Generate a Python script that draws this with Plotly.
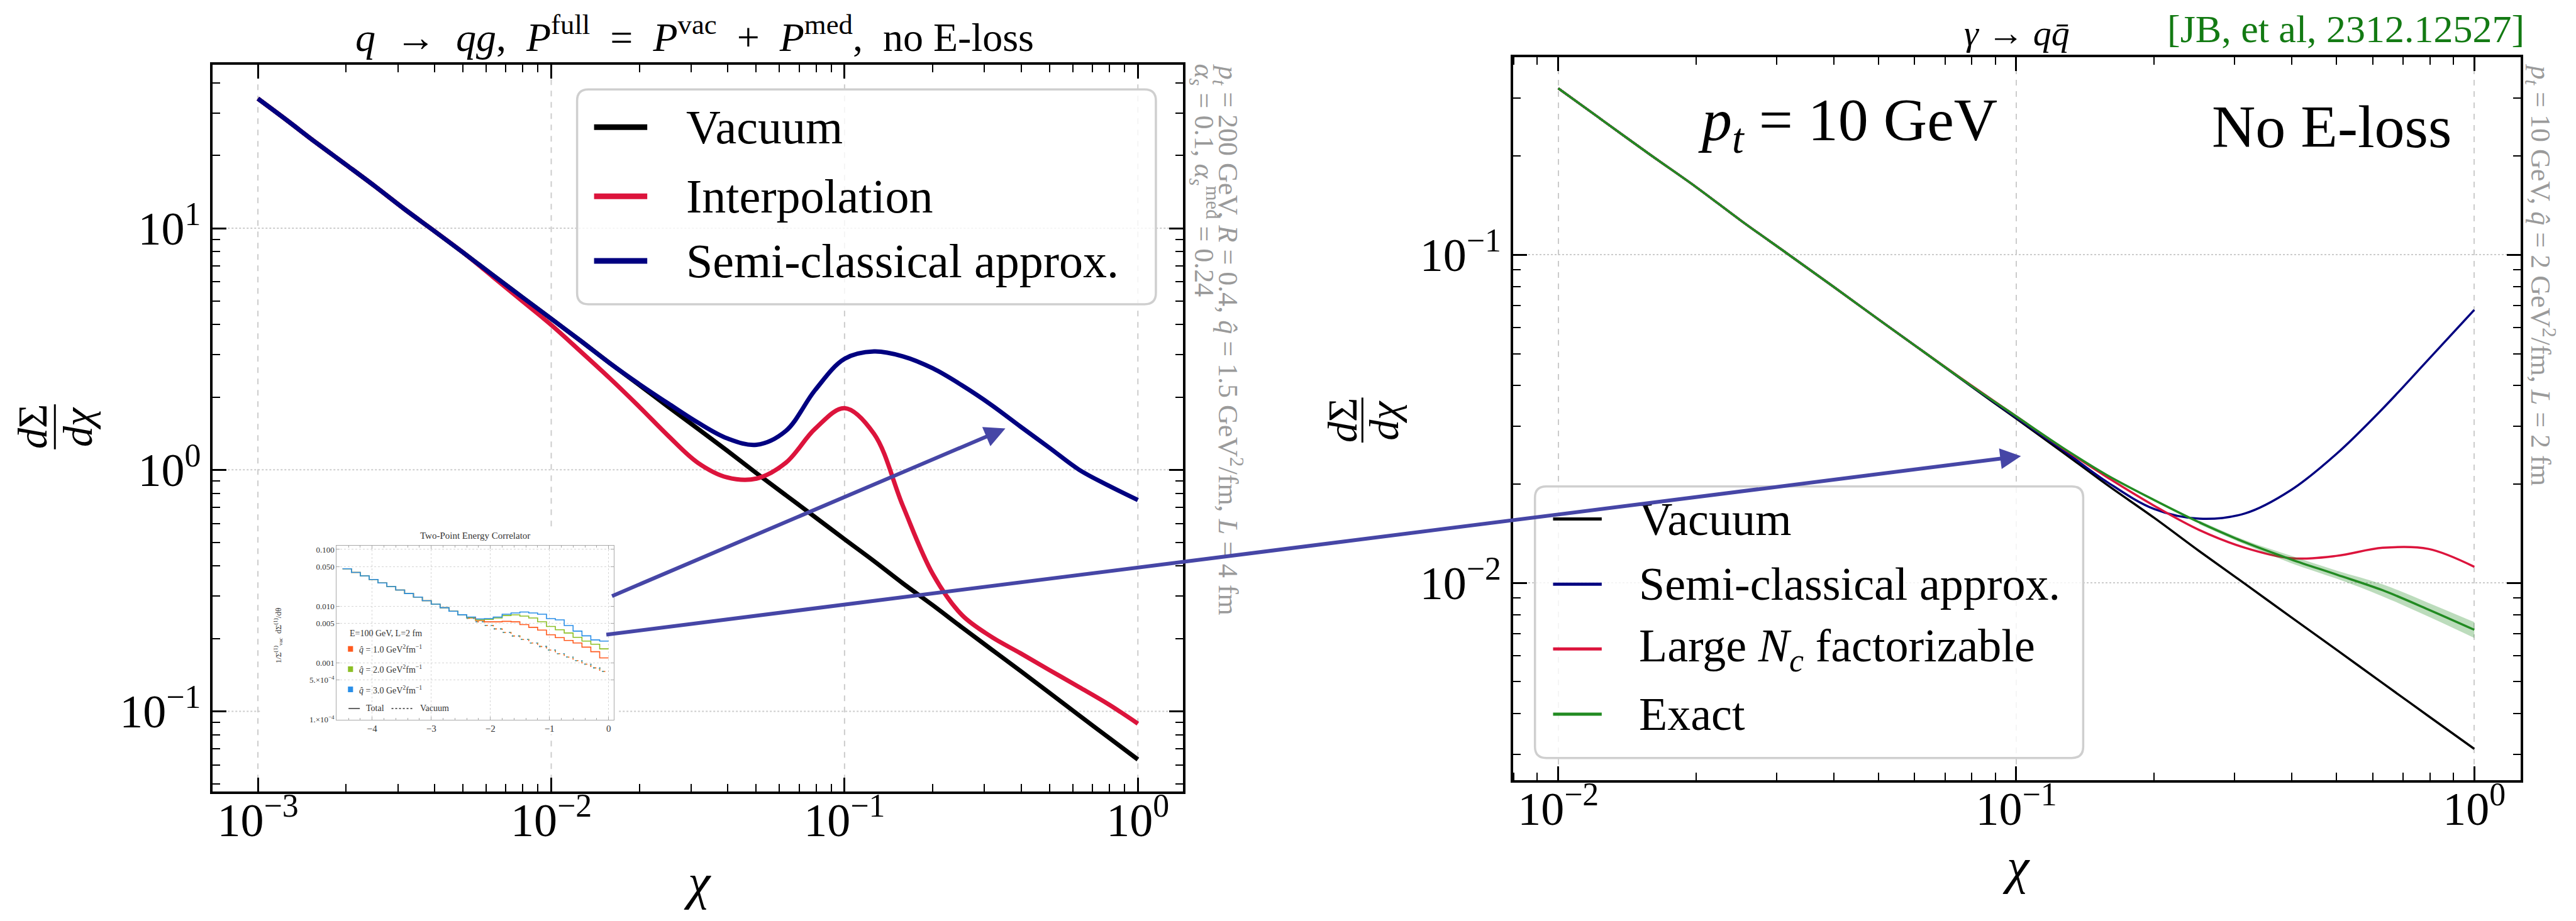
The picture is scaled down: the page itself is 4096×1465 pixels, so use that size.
import plotly.graph_objects as go

# ---------------- data ----------------
chi_left = [0.001, 0.00126, 0.00158, 0.002, 0.00251, 0.00316, 0.00398, 0.00501, 0.00631, 0.00794,
            0.01, 0.0126, 0.0158, 0.02, 0.0251, 0.0316, 0.0398, 0.0501, 0.0631, 0.0794,
            0.1, 0.126, 0.158, 0.2, 0.251, 0.316, 0.398, 0.501, 0.631, 0.794, 1.0]
left_vacuum = [34.4, 27.9, 22.6, 18.3, 14.9, 12.0, 9.77, 7.93, 6.41, 5.20,
               4.22, 3.42, 2.77, 2.24, 1.82, 1.48, 1.20, 0.968, 0.785, 0.637,
               0.516, 0.419, 0.339, 0.275, 0.223, 0.181, 0.147, 0.119, 0.0962, 0.0780, 0.0632]
left_interp = [34.4, 27.9, 22.6, 18.3, 14.9, 12.0, 9.77, 7.93, 6.31, 5.01,
               3.98, 3.09, 2.40, 1.82, 1.38, 1.07, 0.93, 0.92, 1.07, 1.48,
               1.80, 1.41, 0.71, 0.37, 0.251, 0.204, 0.174, 0.148, 0.126, 0.107, 0.089]
left_semi = [34.4, 27.9, 22.6, 18.3, 14.9, 12.0, 9.77, 7.93, 6.41, 5.20,
             4.22, 3.42, 2.77, 2.26, 1.88, 1.57, 1.35, 1.27, 1.45, 2.14,
             2.88, 3.09, 2.95, 2.63, 2.24, 1.86, 1.51, 1.23, 1.00, 0.861, 0.75]

chi_right = [0.01, 0.0126, 0.0158, 0.02, 0.0251, 0.0316, 0.0398, 0.0501, 0.0631, 0.0794,
             0.1, 0.126, 0.158, 0.2, 0.251, 0.316, 0.398, 0.501, 0.631, 0.794, 1.0]
right_vacuum = [0.322, 0.255, 0.203, 0.161, 0.127, 0.101, 0.0802, 0.0635, 0.0504, 0.0399,
                0.0317, 0.0251, 0.0199, 0.0158, 0.0125, 0.00993, 0.00787, 0.00625, 0.00495, 0.00393, 0.00312]
right_semi = [0.322, 0.255, 0.203, 0.161, 0.127, 0.101, 0.0802, 0.0635, 0.0504, 0.0400,
              0.0319, 0.0255, 0.0203, 0.0168, 0.0157, 0.0163, 0.0192, 0.0248, 0.0340, 0.0480, 0.068]
right_largeNc = [0.322, 0.255, 0.203, 0.161, 0.127, 0.101, 0.0802, 0.0635, 0.0504, 0.0402,
                 0.0322, 0.0258, 0.0210, 0.0172, 0.0145, 0.0128, 0.0119, 0.0121, 0.0128, 0.0127, 0.0112]
right_exact = [0.322, 0.255, 0.203, 0.161, 0.127, 0.101, 0.0802, 0.0635, 0.0504, 0.0401,
               0.0322, 0.0259, 0.0213, 0.0179, 0.0153, 0.0133, 0.0118, 0.0106, 0.0095, 0.0083, 0.0072]
chi_band = [0.251, 0.316, 0.398, 0.501, 0.631, 0.794, 1.0]
exact_lo = [0.0151, 0.0131, 0.0115, 0.0103, 0.0091, 0.0079, 0.0068]
exact_hi = [0.0155, 0.0135, 0.0121, 0.0109, 0.0099, 0.0087, 0.0076]

# inset histogram (log10 theta bins)
inset_edges = [-4.5, -4.35, -4.2, -4.05, -3.9, -3.75, -3.6, -3.45, -3.3, -3.15, -3.0, -2.85, -2.7, -2.55,
               -2.4, -2.25, -2.1, -1.95, -1.8, -1.65, -1.5, -1.35, -1.2, -1.05, -0.9, -0.75, -0.6, -0.45,
               -0.3, -0.15, 0.0]
inset_vacuum = [0.0456, 0.0394, 0.0342, 0.0296, 0.0257, 0.0222, 0.0193, 0.0167, 0.0145, 0.0125,
                0.01087, 0.00942, 0.00816, 0.00707, 0.00613, 0.00531, 0.00460, 0.00398, 0.00345, 0.00299,
                0.00259, 0.00225, 0.00195, 0.00169, 0.00146, 0.00127, 0.00110, 0.00095, 0.00082, 0.00071]
inset_q1 = [0.0456, 0.0394, 0.0342, 0.0296, 0.0257, 0.0222, 0.0193, 0.0167, 0.0145, 0.0125,
            0.01087, 0.00942, 0.00816, 0.00707, 0.0062, 0.0056, 0.0053, 0.0053, 0.0054, 0.0053,
            0.00475, 0.00424, 0.0038, 0.00313, 0.00279, 0.00249, 0.00225, 0.0019, 0.00158, 0.00123]
inset_q2 = [0.0456, 0.0394, 0.0342, 0.0296, 0.0257, 0.0222, 0.0193, 0.0167, 0.0145, 0.0125,
            0.01087, 0.00942, 0.00816, 0.00707, 0.0063, 0.00574, 0.00588, 0.0062, 0.00684, 0.00705,
            0.00668, 0.0062, 0.00532, 0.0044, 0.00384, 0.00337, 0.00283, 0.00243, 0.00214, 0.00177]
inset_q3 = [0.0456, 0.0394, 0.0342, 0.0296, 0.0257, 0.0222, 0.0193, 0.0167, 0.0145, 0.0125,
            0.01087, 0.00942, 0.00816, 0.00707, 0.00645, 0.00597, 0.00605, 0.00644, 0.00722, 0.0076,
            0.00791, 0.0076, 0.00722, 0.00605, 0.00574, 0.00457, 0.00364, 0.00301, 0.00255, 0.00243]

left_xticks = [1e-3, 1e-2, 1e-1, 1]
left_xticktext = ["10<sup>−3</sup>", "10<sup>−2</sup>", "10<sup>−1</sup>", "10<sup>0</sup>"]
left_yticks = [0.1, 1, 10]
left_yticktext = ["10<sup>−1</sup>", "10<sup>0</sup>", "10<sup>1</sup>"]
right_xticks = [1e-2, 1e-1, 1]
right_xticktext = ["10<sup>−2</sup>", "10<sup>−1</sup>", "10<sup>0</sup>"]
right_yticks = [1e-2, 1e-1]
right_yticktext = ["10<sup>−2</sup>", "10<sup>−1</sup>"]
inset_yticks = [0.1, 0.05, 0.01, 0.005, 0.001, 5e-4, 1e-4]
inset_yticktext = ["0.100", "0.050", "0.010", "0.005", "0.001", "5.×10<sup>−4</sup>", "1.×10<sup>−4</sup>"]
inset_xticks = [-4, -3, -2, -1, 0]
inset_xticktext = ["−4", "−3", "−2", "−1", "0"]

# ---------------- helpers ----------------
WR, HR = 4553.0, 1628.0
def px(x):
    return x / WR
def py(y):
    return 1 - y / HR

SERIF = "Liberation Serif"
NAVY = "#000080"
CRIMSON = "#dc143c"
GREEN = "#228b22"
ARROW = "#4646a6"
GRAY = "#9a9a9a"
GRID = "#cccccc"
NB = "\u00a0"

def minor_vals(lo_exp, hi_exp):
    out = []
    for e in range(lo_exp, hi_exp):
        for d in range(2, 10):
            out.append(d * 10 ** e)
    return out

def main_axis(rng, dom, anchor, tv, tt, minors, griddash, showgrid=True, standoff=0):
    return dict(type="log", range=rng, domain=dom, anchor=anchor,
                showline=True, linecolor="black", linewidth=4, mirror="allticks",
                ticks="inside", ticklen=22, tickwidth=3, tickcolor="black",
                tickmode="array", tickvals=tv, ticktext=tt, ticklabelstandoff=standoff,
                tickfont=dict(family=SERIF, size=74, color="black"),
                showgrid=showgrid, gridcolor=GRID, gridwidth=2, griddash=griddash,
                zeroline=False,
                minor=dict(tickmode="array", tickvals=minors, ticks="inside", ticklen=12,
                           tickwidth=2, tickcolor="black", showgrid=False))

fig = go.Figure()

# left plot traces
fig.add_trace(go.Scatter(x=chi_left, y=left_vacuum, mode="lines", line=dict(color="black", width=7, shape="spline"),
                         xaxis="x", yaxis="y", showlegend=False))
fig.add_trace(go.Scatter(x=chi_left, y=left_interp, mode="lines", line=dict(color=CRIMSON, width=7, shape="spline"),
                         xaxis="x", yaxis="y", showlegend=False))
fig.add_trace(go.Scatter(x=chi_left, y=left_semi, mode="lines", line=dict(color=NAVY, width=7, shape="spline"),
                         xaxis="x", yaxis="y", showlegend=False))

# right plot traces
fig.add_trace(go.Scatter(x=chi_right, y=right_vacuum, mode="lines", line=dict(color="black", width=3.5, shape="spline"),
                         xaxis="x2", yaxis="y2", showlegend=False))
fig.add_trace(go.Scatter(x=chi_right, y=right_semi, mode="lines", line=dict(color=NAVY, width=3.5, shape="spline"),
                         xaxis="x2", yaxis="y2", showlegend=False))
fig.add_trace(go.Scatter(x=chi_right, y=right_largeNc, mode="lines", line=dict(color=CRIMSON, width=3.5, shape="spline"),
                         xaxis="x2", yaxis="y2", showlegend=False))
fig.add_trace(go.Scatter(x=chi_band, y=exact_lo, mode="lines", line=dict(width=0, shape="spline"),
                         xaxis="x2", yaxis="y2", showlegend=False, hoverinfo="skip"))
fig.add_trace(go.Scatter(x=chi_band, y=exact_hi, mode="lines", line=dict(width=0, shape="spline"), fill="tonexty",
                         fillcolor="rgba(34,139,34,0.30)", xaxis="x2", yaxis="y2", showlegend=False, hoverinfo="skip"))
fig.add_trace(go.Scatter(x=chi_right, y=right_exact, mode="lines", line=dict(color=GREEN, width=3.5, shape="spline"),
                         xaxis="x2", yaxis="y2", showlegend=False))

# inset traces
inset_cols = ["#ff5a1f", "#8cbf26", "#2a8fe8"]
inset_dash = ["5px,5px", "3px,7px", "2px,8px"]
for vals, col in zip([inset_q1, inset_q2, inset_q3], inset_cols):
    fig.add_trace(go.Scatter(x=inset_edges, y=vals + [vals[-1]], mode="lines",
                             line=dict(color=col, width=1.6, shape="hv"),
                             xaxis="x3", yaxis="y3", showlegend=False))
for col, dsh in zip(inset_cols, inset_dash):
    fig.add_trace(go.Scatter(x=inset_edges[14:], y=inset_vacuum[14:] + [inset_vacuum[-1]], mode="lines",
                             line=dict(color=col, width=1.6, shape="hv", dash=dsh),
                             xaxis="x3", yaxis="y3", showlegend=False))

# ---------------- layout ----------------
layout = dict(
    width=4096, height=1465, margin=dict(l=0, r=0, t=0, b=0),
    paper_bgcolor="white", plot_bgcolor="white", showlegend=False,
    font=dict(family=SERIF, color="black"),
    xaxis=main_axis([-3.154, 0.154], [px(376), px(2091)], "y", left_xticks, left_xticktext,
                    minor_vals(-3, 0), "dash", showgrid=False, standoff=-22),
    yaxis=main_axis([-1.3325, 1.677], [py(1407), py(114)], "x", left_yticks, left_yticktext,
                    minor_vals(-2, 2), "dot", showgrid=False),
    xaxis2=main_axis([-2.099, 0.101], [px(2674), px(4455)], "y2", right_xticks, right_xticktext,
                     minor_vals(-3, 0), "dash", standoff=-22),
    yaxis2=main_axis([-2.602, -0.398], [py(1387), py(101)], "x2", right_yticks, right_yticktext,
                     minor_vals(-3, 0), "dot"),
    xaxis3=dict(range=[-4.6, 0.09], domain=[px(595), px(1085)], anchor="y3",
                showline=True, linecolor="#a8a8a8", linewidth=1, mirror="allticks",
                ticks="inside", ticklen=5, tickcolor="#a8a8a8", tickvals=inset_xticks, ticktext=inset_xticktext,
                tickfont=dict(family=SERIF, size=15, color="#333333"),
                showgrid=True, gridcolor="#d6d6d6", gridwidth=1, griddash="dot", zeroline=False,
                minor=dict(dtick=0.2, tick0=0, ticks="inside", ticklen=3, tickcolor="#a8a8a8", showgrid=False)),
    yaxis3=dict(type="log", range=[-4, -0.93], domain=[py(1279), py(969)], anchor="x3",
                showline=True, linecolor="#a8a8a8", linewidth=1, mirror="allticks",
                ticks="inside", ticklen=5, tickcolor="#a8a8a8", tickvals=inset_yticks, ticktext=inset_yticktext,
                tickfont=dict(family=SERIF, size=13, color="#333333"),
                showgrid=True, gridcolor="#d6d6d6", gridwidth=1, griddash="dot", zeroline=False),
)
fig.update_layout(**layout)

shapes = []
annotations = []

# left-plot gridlines (interrupted where the inset picture sits)
inset_y_lo, inset_y_hi = (1407 - 1305) / 1293.0, (1407 - 935) / 1293.0
inset_x_lo, inset_x_hi = (460 - 376) / 1715.0, (1094 - 376) / 1715.0
for xv in left_xticks:
    segs = [(0, inset_y_lo), (inset_y_hi, 1)] if xv == 1e-2 else [(0, 1)]
    for a, b in segs:
        shapes.append(dict(type="line", xref="x", yref="y domain", x0=xv, x1=xv, y0=a, y1=b, layer="below",
                           line=dict(color=GRID, width=2, dash="dash")))
for yv in left_yticks:
    segs = [(0, inset_x_lo), (inset_x_hi, 1)] if yv == 0.1 else [(0, 1)]
    for a, b in segs:
        shapes.append(dict(type="line", xref="x domain", yref="y", x0=a, x1=b, y0=yv, y1=yv, layer="below",
                           line=dict(color=GRID, width=2, dash="dot")))

def rrect(x0, y0, x1, y1, r=18):
    rx = r / 4096.0
    ry = r / 1465.0
    X0, X1 = px(x0), px(x1)
    Yt, Yb = py(y0), py(y1)
    p = (f"M {X0+rx},{Yt} L {X1-rx},{Yt} Q {X1},{Yt} {X1},{Yt-ry} "
         f"L {X1},{Yb+ry} Q {X1},{Yb} {X1-rx},{Yb} L {X0+rx},{Yb} Q {X0},{Yb} {X0},{Yb+ry} "
         f"L {X0},{Yt-ry} Q {X0},{Yt} {X0+rx},{Yt} Z")
    return dict(type="path", path=p, xref="paper", yref="paper", layer="above",
                line=dict(color="#cfcfcf", width=3.5), fillcolor="rgba(255,255,255,0.8)")

shapes.append(rrect(1020, 158, 2043, 540))
shapes.append(rrect(2713, 864, 3682, 1347))

def ann(text, x, y, size, xanchor="center", yanchor="middle", color="black", angle=0, **kw):
    d = dict(text=text, x=x, y=y, xref="paper", yref="paper", showarrow=False,
             xanchor=xanchor, yanchor=yanchor, textangle=angle,
             font=dict(family=SERIF, size=size, color=color))
    d.update(kw)
    annotations.append(d)

left_leg = [("Vacuum", "black"), ("Interpolation", CRIMSON), ("Semi-classical approx.", NAVY)]
for (lab, col), yc in zip(left_leg, [225, 348, 463]):
    shapes.append(dict(type="line", xref="paper", yref="paper", x0=px(1050), x1=px(1144), y0=py(yc), y1=py(yc),
                       line=dict(color=col, width=9), layer="above"))
    ann(lab, px(1211), py(yc), 76, xanchor="left")

right_leg = [("Vacuum", "black"), ("Semi-classical approx.", NAVY),
             ("Large <i>N</i><sub><i>c</i></sub> factorizable", CRIMSON), ("Exact", GREEN)]
for (lab, col), yc in zip(right_leg, [922, 1038, 1153, 1269]):
    shapes.append(dict(type="line", xref="paper", yref="paper", x0=px(2745), x1=px(2831), y0=py(yc), y1=py(yc),
                       line=dict(color=col, width=5), layer="above"))
    ann(lab, px(2894), py(yc), 74, xanchor="left")

# titles
sp = NB * 2
left_title = (f"<i>q</i>{sp}→{sp}<i>qg</i>,{sp}<i>P</i><sup>full</sup>{sp}={sp}<i>P</i><sup>vac</sup>"
              f"{sp}+{sp}<i>P</i><sup>med</sup>,{sp}no E-loss")
ann(left_title, px(1228), py(60), 64)
ann("<i>γ</i> → <i>q</i><i>q̄</i>", px(3565), py(58), 58)
ann("[JB, et al, 2312.12527]", px(4146), py(50), 62, color="#137a13")

# in-plot texts right
ann("<i>p</i><sub><i>t</i></sub> = 10 GeV", px(3266), py(220), 96)
ann("No E-loss", px(4121), py(224), 96)

# gray vertical texts
ann("<i>p</i><sub><i>t</i></sub> = 200 GeV, <i>R</i> = 0.4, <i>q̂</i> = 1.5 GeV<sup>2</sup>/fm, <i>L</i> = 4 fm",
    px(2170), py(110), 44, yanchor="top", color=GRAY, angle=90)
ann("<i>α</i><sub><i>s</i></sub> = 0.1, <i>α</i><sub><i>s</i></sub><sup>med</sup> = 0.24",
    px(2128), py(110), 44, yanchor="top", color=GRAY, angle=90)
ann("<i>p</i><sub><i>t</i></sub> = 10 GeV, <i>q̂</i> = 2 GeV<sup>2</sup>/fm, <i>L</i> = 2 fm",
    px(4490), py(110), 44, yanchor="top", color=GRAY, angle=90)

# axis titles
ann("<i>χ</i>", px(1233), py(1568), 80)
ann("<i>χ</i>", px(3564), py(1540), 80)
for xn, xb, xd, yc in [(58, 97, 138, 758), (2372, 2408, 2446, 746)]:
    ann("<i>d</i>Σ", px(xn), py(yc), 66, angle=-90)
    ann("<i>dχ</i>", px(xd), py(yc), 66, angle=-90)
    shapes.append(dict(type="line", xref="paper", yref="paper", x0=px(xb), x1=px(xb),
                       y0=py(yc - 40), y1=py(yc + 40), line=dict(color="black", width=3)))

# inset texts
ann("Two-Point Energy Correlator", px(840), py(952), 15, color="#333333")
ann("E=100 GeV, L=2 fm", px(616), py(1125), 14, xanchor="left", color="#333333")
inset_leg = ["<i>q̂</i> = 1.0 GeV<sup>2</sup>fm<sup>−1</sup>", "<i>q̂</i> = 2.0 GeV<sup>2</sup>fm<sup>−1</sup>",
             "<i>q̂</i> = 3.0 GeV<sup>2</sup>fm<sup>−1</sup>"]
for lab, col, yc in zip(inset_leg, inset_cols, [1153, 1189, 1225]):
    shapes.append(dict(type="rect", xref="paper", yref="paper", x0=px(615), x1=px(624), y0=py(yc + 5), y1=py(yc - 5),
                       line=dict(width=0), fillcolor=col, layer="above"))
    ann(lab, px(632), py(yc), 14, xanchor="left", color="#333333")
shapes.append(dict(type="line", xref="paper", yref="paper", x0=px(616), x1=px(636), y0=py(1259), y1=py(1259),
                   line=dict(color="#333333", width=1.5), layer="above"))
ann("Total", px(645), py(1259), 14, xanchor="left", color="#333333")
shapes.append(dict(type="line", xref="paper", yref="paper", x0=px(692), x1=px(730), y0=py(1259), y1=py(1259),
                   line=dict(color="#333333", width=1.5, dash="3px,3px"), layer="above"))
ann("Vacuum", px(740), py(1259), 14, xanchor="left", color="#333333")
ann("1/Σ<sup>(1)</sup><sub>vac</sub>  dΣ<sup>(1)</sup>/dθ", px(491), py(1130), 13, angle=-90, color="#333333")

# arrows
S = 4096.0 / WR
for head, tail in [((1777, 761), (1080, 1058)), ((3572, 810), (1070, 1126))]:
    annotations.append(dict(text="", x=px(head[0]), y=py(head[1]), xref="paper", yref="paper",
                            showarrow=True, axref="pixel", ayref="pixel",
                            ax=(tail[0] - head[0]) * S, ay=(tail[1] - head[1]) * S,
                            arrowcolor=ARROW, arrowwidth=6, arrowhead=2, arrowsize=1.1, standoff=0))

fig.update_layout(shapes=shapes, annotations=annotations)
fig.write_html("out.html")
